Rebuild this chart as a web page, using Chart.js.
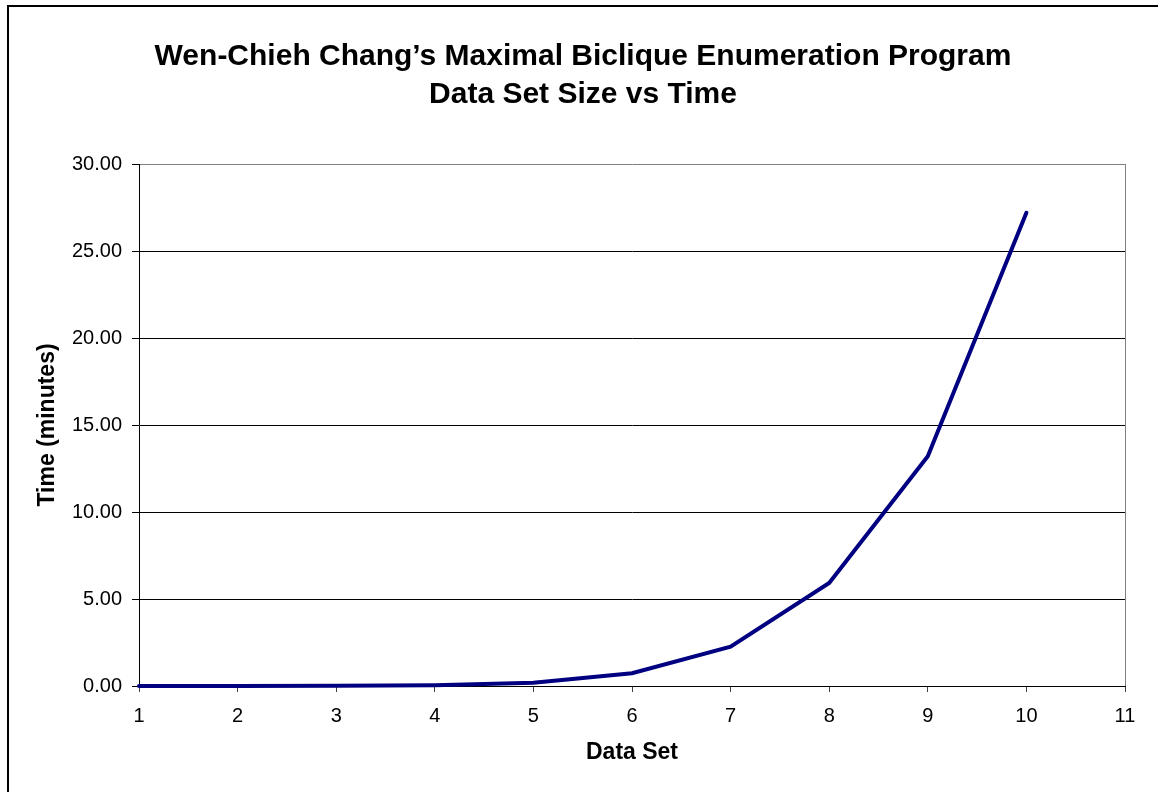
<!DOCTYPE html>
<html>
<head>
<meta charset="utf-8">
<title>Data Set Size vs Time</title>
<script src="https://cdn.jsdelivr.net/npm/chart.js@4.4.1/dist/chart.umd.min.js"></script>
<style>
  html, body { margin: 0; padding: 0; background: #fff; }
  canvas { display: block; }
</style>
</head>
<body>
<canvas id="myChart" width="1158" height="792"></canvas>
<script>
const titleLines = [
  "Wen-Chieh Chang\u2019s Maximal Biclique Enumeration Program",
  "Data Set Size vs Time",
];
const dataSets = [1, 2, 3, 4, 5, 6, 7, 8, 9, 10];
const minutes = [0.0, 0.0, 0.01, 0.04, 0.19, 0.73, 2.26, 5.92, 13.2, 27.2];
const yTicks = [0, 5, 10, 15, 20, 25, 30];
const xTicks = [1, 2, 3, 4, 5, 6, 7, 8, 9, 10, 11];

const fontFamily = "'Liberation Sans', Arial, sans-serif";

// white page plus the cropped outer frame (left and top edges only)
const pageFrame = {
  id: "pageFrame",
  beforeDraw: (chart) => {
    const { ctx, width, height } = chart;
    ctx.save();
    ctx.fillStyle = "#fff";
    ctx.fillRect(0, 0, width, height);
    ctx.strokeStyle = "#000";
    ctx.lineWidth = 2;
    ctx.beginPath();
    ctx.moveTo(8, height);
    ctx.lineTo(8, 6);
    ctx.lineTo(width, 6);
    ctx.stroke();
    ctx.restore();
  },
};

// grey right edge of the plot area
const plotFrame = {
  id: "plotFrame",
  beforeDatasetsDraw: (chart) => {
    const { ctx, chartArea } = chart;
    ctx.save();
    ctx.strokeStyle = "#808080";
    ctx.lineWidth = 1;
    ctx.beginPath();
    ctx.moveTo(Math.round(chartArea.right) + 0.5, chartArea.top);
    ctx.lineTo(Math.round(chartArea.right) + 0.5, chartArea.bottom);
    ctx.stroke();
    ctx.restore();
  },
};

const points = dataSets.map((x, i) => ({ x: x, y: minutes[i] }));

new Chart(document.getElementById("myChart"), {
  type: "line",
  data: {
    datasets: [
      {
        label: "Time",
        data: points,
        borderColor: "#000080",
        backgroundColor: "#000080",
        borderWidth: 4,
        borderCapStyle: "round",
        pointRadius: 0,
        tension: 0,
        clip: 4,
      },
    ],
  },
  options: {
    responsive: false,
    animation: false,
    layout: { padding: { left: 8, right: 0, top: 0, bottom: 0 } },
    plugins: {
      legend: { display: false },
      tooltip: { enabled: false },
      title: {
        display: true,
        text: titleLines,
        color: "#000",
        font: { family: fontFamily, size: 30, weight: "bold", lineHeight: 38 / 30 },
        padding: { top: 38, bottom: 50 },
      },
    },
    scales: {
      x: {
        type: "linear",
        min: 1,
        max: 11,
        afterFit: (scale) => { scale.height = 106; },
        afterBuildTicks: (scale) => { scale.ticks = xTicks.map((v) => ({ value: v })); },
        grid: {
          drawOnChartArea: false,
          drawTicks: true,
          tickLength: 6,
          tickColor: "#444",
        },
        border: { display: true, color: "#000", width: 1 },
        ticks: {
          color: "#000",
          padding: 12,
          font: { family: fontFamily, size: 20 },
        },
        title: {
          display: true,
          text: "Data Set",
          color: "#000",
          font: { family: fontFamily, size: 23, weight: "bold" },
          padding: { top: 0, bottom: 26 },
        },
      },
      y: {
        min: 0,
        max: 30,
        afterFit: (scale) => { scale.width = 131; },
        afterBuildTicks: (scale) => { scale.ticks = yTicks.map((v) => ({ value: v })); },
        grid: {
          color: (c) => (c.tick && c.tick.value === 30 ? "#808080" : "#000"),
          tickColor: "#000",
          tickLength: 7,
          lineWidth: 1,
        },
        border: { display: true, color: "#000", width: 1 },
        ticks: {
          color: "#000",
          padding: 10,
          font: { family: fontFamily, size: 20 },
          callback: (v) => Number(v).toFixed(2),
        },
        title: {
          display: true,
          text: "Time (minutes)",
          color: "#000",
          font: { family: fontFamily, size: 23, weight: "bold" },
          padding: { top: 26, bottom: 0 },
        },
      },
      // empty spacer on the right so the title centres over the whole page
      yRight: {
        position: "right",
        min: 0,
        max: 30,
        afterFit: (scale) => { scale.width = 33; },
        grid: { display: false },
        border: { display: false },
        ticks: { display: false },
      },
    },
  },
  plugins: [pageFrame, plotFrame],
});
</script>
</body>
</html>
